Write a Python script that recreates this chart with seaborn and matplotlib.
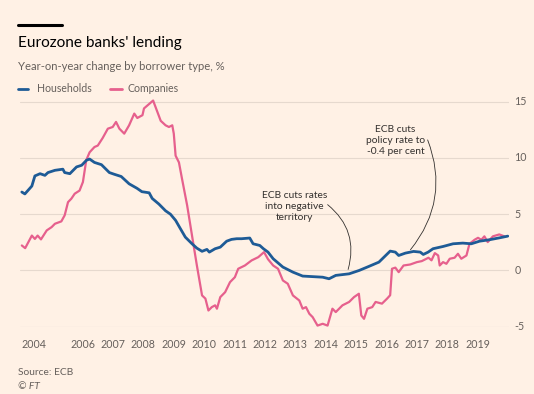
import numpy as np
import pandas as pd
import matplotlib
matplotlib.use("Agg")
import matplotlib.pyplot as plt
import seaborn as sns
from matplotlib.lines import Line2D
from matplotlib.ticker import MultipleLocator

# Households, year-on-year % (x in decimal years)
hh_year = [2004.00, 2004.10, 2004.33, 2004.43, 2004.60, 2004.76, 2004.86, 2005.09, 2005.35, 2005.41,
           2005.58, 2005.80, 2005.97, 2006.13, 2006.23, 2006.39, 2006.62, 2006.88, 2007.04, 2007.27,
           2007.53, 2007.79, 2007.95, 2008.19, 2008.29, 2008.51, 2008.73, 2008.89, 2009.06, 2009.22,
           2009.38, 2009.60, 2009.76, 2009.93, 2010.09, 2010.17, 2010.36, 2010.53, 2010.74, 2010.90,
           2011.07, 2011.23, 2011.50, 2011.61, 2011.83, 2011.95, 2012.10, 2012.27, 2012.59, 2012.92,
           2013.24, 2013.57, 2013.90, 2014.11, 2014.33, 2014.77, 2015.10, 2015.42, 2015.75, 2016.12,
           2016.29, 2016.40, 2016.62, 2016.89, 2017.11, 2017.21, 2017.37, 2017.53, 2017.86, 2018.19,
           2018.51, 2018.79, 2019.06, 2019.39, 2019.72, 2019.99]
hh_val = [6.97, 6.8, 7.5, 8.4, 8.6, 8.45, 8.7, 8.9, 9.0, 8.7,
          8.6, 9.2, 9.35, 9.8, 9.9, 9.6, 9.4, 8.7, 8.55, 8.35,
          7.7, 7.3, 7.0, 6.9, 6.4, 5.9, 5.3, 5.0, 4.45, 3.7,
          2.96, 2.37, 1.98, 1.7, 1.87, 1.63, 1.93, 2.07, 2.6, 2.76,
          2.82, 2.82, 2.88, 2.37, 2.22, 1.93, 1.63, 1.04, 0.3, -0.15,
          -0.5, -0.55, -0.6, -0.74, -0.44, -0.3, 0.0, 0.36, 0.74, 1.72,
          1.63, 1.33, 1.54, 1.69, 1.63, 1.42, 1.63, 1.93, 2.13, 2.37,
          2.43, 2.37, 2.6, 2.73, 2.9, 3.05]

# Companies, year-on-year %
co_year = [2004.00, 2004.11, 2004.33, 2004.43, 2004.52, 2004.63, 2004.82, 2004.98, 2005.09, 2005.30,
           2005.41, 2005.52, 2005.63, 2005.74, 2005.90, 2006.01, 2006.12, 2006.23, 2006.39, 2006.50,
           2006.66, 2006.83, 2006.99, 2007.10, 2007.21, 2007.37, 2007.53, 2007.70, 2007.80, 2007.97,
           2008.02, 2008.32, 2008.57, 2008.73, 2008.84, 2008.95, 2009.00, 2009.06, 2009.17, 2009.27,
           2009.44, 2009.60, 2009.76, 2009.93, 2010.04, 2010.14, 2010.25, 2010.36, 2010.42, 2010.53,
           2010.69, 2010.85, 2011.01, 2011.12, 2011.34, 2011.56, 2011.78, 2011.97, 2012.10, 2012.27,
           2012.43, 2012.59, 2012.75, 2012.92, 2013.13, 2013.24, 2013.35, 2013.46, 2013.57, 2013.73,
           2013.90, 2014.06, 2014.22, 2014.33, 2014.55, 2014.77, 2014.93, 2015.09, 2015.17, 2015.26,
           2015.37, 2015.53, 2015.64, 2015.85, 2016.02, 2016.12, 2016.18, 2016.29, 2016.40, 2016.56,
           2016.78, 2017.00, 2017.16, 2017.38, 2017.48, 2017.59, 2017.70, 2017.75, 2017.86, 2017.97,
           2018.08, 2018.24, 2018.35, 2018.46, 2018.63, 2018.73, 2018.90, 2019.01, 2019.12, 2019.22,
           2019.33, 2019.50, 2019.71, 2019.88]
co_val = [2.22, 1.98, 3.1, 2.8, 3.1, 2.76, 3.56, 3.85, 4.15, 4.36,
          4.9, 6.07, 6.38, 6.82, 7.1, 7.86, 9.8, 10.5, 10.97, 11.1,
          11.77, 12.6, 12.75, 13.2, 12.6, 12.16, 12.9, 13.94, 13.55, 13.8,
          14.4, 15.1, 13.3, 12.9, 12.75, 12.9, 12.16, 10.2, 9.6, 8.16,
          5.78, 3.1, 0.44, -2.22, -2.5, -3.56, -3.26, -3.1, -3.4, -2.37,
          -1.93, -1.04, -0.6, 0.15, 0.44, 0.89, 1.18, 1.63, 1.0, 0.44,
          0.15, -0.89, -1.18, -2.22, -2.67, -3.4, -3.26, -3.85, -4.15, -4.9,
          -4.74, -4.9, -3.4, -3.7, -3.1, -2.8, -2.37, -2.07, -4.0, -4.3,
          -3.4, -3.26, -2.8, -2.95, -2.5, -2.2, 0.15, 0.25, -0.15, 0.44,
          0.53, 0.74, 0.83, 1.13, 0.9, 1.54, 1.33, 0.44, 0.74, 0.59,
          1.04, 1.13, 1.48, 1.04, 1.33, 2.37, 2.73, 2.9, 2.73, 3.03,
          2.52, 3.03, 3.2, 3.03]

year_ticks = [2004, 2006, 2007, 2008, 2009, 2010, 2011, 2012, 2013, 2014, 2015, 2016, 2017, 2018, 2019]
y_ticks = [-5, 0, 5, 10, 15]

bg = "#FFF1E5"
blue = "#1E5B96"
pink = "#E6608D"
grey = "#66605C"
dark = "#33302E"

sns.set_style("white")
plt.rcParams["font.family"] = ["Lato", "DejaVu Sans"]

hh = pd.DataFrame({"year": hh_year, "value": hh_val})
co = pd.DataFrame({"year": co_year, "value": co_val})

W, H = 534, 394
fig = plt.figure(figsize=(W / 100, H / 100), dpi=100, facecolor=bg)
ax = fig.add_axes([20 / W, 1 - 326.7 / H, 489 / W, (326.7 - 98.3) / H])
ax.set_facecolor(bg)

for y in [0, 5, 10, 15]:
    ax.axhline(y, color="#E6D9CE", lw=0.8, zorder=0)
ax.axhline(-5, color="#D8CCC1", lw=0.8, zorder=0)

sns.lineplot(data=co, x="year", y="value", ax=ax, color=pink, lw=1.6)
sns.lineplot(data=hh, x="year", y="value", ax=ax, color=blue, lw=2.0)

ax.set_xlim(2003.94, 2020.03)
ax.set_ylim(-5, 15.3)
ax.set_xlabel("")
ax.set_ylabel("")
for s in ax.spines.values():
    s.set_visible(False)

ax.set_xticks(year_ticks)
ax.set_xticklabels([str(y) for y in year_ticks])
ax.xaxis.set_minor_locator(MultipleLocator(1 / 12))
ax.tick_params(axis="x", which="both", direction="out", color="#D2C7BC", width=0.5,
               length=6.5, labelsize=7.7, labelcolor=grey, pad=2.5)
ax.get_xticklabels()[0].set_ha("left")

ax.yaxis.tick_right()
ax.set_yticks(y_ticks)
ax.set_yticklabels([str(y) for y in y_ticks])
ax.tick_params(axis="y", length=0, labelsize=7.7, labelcolor=grey, pad=4)
for lab in ax.get_yticklabels():
    lab.set_verticalalignment("center")

# annotations
ax.text(2012.98, 5.69, "ECB cuts rates\ninto negative\nterritory", ha="center", va="center",
        fontsize=7.4, color=dark, linespacing=1.3)
ax.annotate("", xy=(2014.71, -0.15), xytext=(2013.99, 6.0),
            arrowprops=dict(arrowstyle="-", color=dark, lw=0.6, connectionstyle="arc3,rad=-0.35"))
ax.text(2016.3, 11.57, "ECB cuts\npolicy rate to\n-0.4 per cent", ha="center", va="center",
        fontsize=7.4, color=dark, linespacing=1.3)
ax.annotate("", xy=(2016.73, 1.65), xytext=(2017.32, 11.83),
            arrowprops=dict(arrowstyle="-", color=dark, lw=0.6, connectionstyle="arc3,rad=-0.3"))


def fy(py):
    return 1 - py / H


fig.add_artist(Line2D([18 / W, 62 / W], [fy(24.5), fy(24.5)], color="black", lw=2.2))
fig.text(18 / W, fy(47.5), "Eurozone banks' lending", fontsize=11.1, color="#000000", va="baseline")
fig.text(18 / W, fy(69.5), "Year-on-year change by borrower type, %", fontsize=8.1, color=grey, va="baseline")

fig.add_artist(Line2D([18 / W, 28 / W], [fy(88.7), fy(88.7)], color=blue, lw=2.0))
fig.text(37 / W, fy(91.8), "Households", fontsize=7.6, color=grey, va="baseline")
fig.add_artist(Line2D([110 / W, 122 / W], [fy(88.7), fy(88.7)], color=pink, lw=2.0))
fig.text(128 / W, fy(91.8), "Companies", fontsize=7.6, color=grey, va="baseline")

fig.text(18 / W, fy(375), "Source: ECB", fontsize=7.4, color=grey, va="baseline")
fig.text(18 / W, fy(389), "\u00a9 FT", fontsize=7.4, color=grey, va="baseline", style="italic")

fig.savefig("out.png", dpi=100, facecolor=bg)
